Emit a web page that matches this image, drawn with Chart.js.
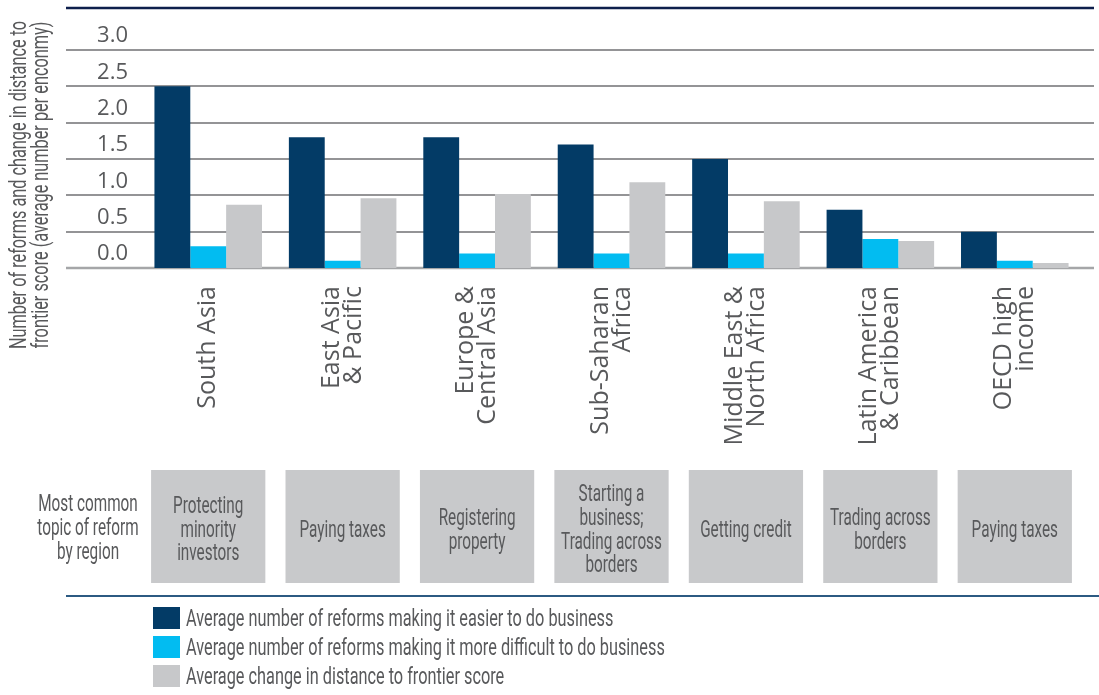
<!DOCTYPE html>
<html>
<head>
<meta charset="utf-8">
<title>Reforms by region</title>
<script src="https://cdn.jsdelivr.net/npm/chart.js@4.4.1/dist/chart.umd.min.js"></script>
<style>
  html, body { margin: 0; padding: 0; background: #ffffff; }
  #wrap { width: 1099px; height: 695px; position: relative; }
</style>
</head>
<body>
<div id="wrap"><canvas id="chart" width="1099" height="695"></canvas></div>
<script>
// Regions (category axis), one multi-line label per region
const regions = [
  ['South Asia'],
  ['East Asia', '& Pacific'],
  ['Europe &', 'Central Asia'],
  ['Sub-Saharan', 'Africa'],
  ['Middle East &', 'North Africa'],
  ['Latin America', '& Caribbean'],
  ['OECD high', 'income']
];

// Series values (average per economy)
const easierReforms    = [2.5, 1.8, 1.8, 1.7, 1.5, 0.8, 0.5];
const difficultReforms = [0.3, 0.1, 0.2, 0.2, 0.2, 0.4, 0.1];
const dtfChange        = [0.87, 0.96, 1.02, 1.18, 0.92, 0.37, 0.07];

const seriesNames = [
  'Average number of reforms making it easier to do business',
  'Average number of reforms making it more difficult to do business',
  'Average change in distance to frontier score'
];

// Value axis ticks
const yTicks = [0, 0.5, 1.0, 1.5, 2.0, 2.5, 3.0];

// Most common topic of reform per region
const topics = [
  ['Protecting', 'minority', 'investors'],
  ['Paying taxes'],
  ['Registering', 'property'],
  ['Starting a', 'business;', 'Trading across', 'borders'],
  ['Getting credit'],
  ['Trading across', 'borders'],
  ['Paying taxes']
];
const topicCaption = ['Most common', 'topic of reform', 'by region'];

const axisTitle = [
  'Number of reforms and change in distance to',
  'frontier score (average number per enconmy)'
];

// Styling
const TEXT = '#58595b';
const NARROW_FONT = 'Roboto, "Liberation Sans", sans-serif';
const SQUEEZE = 0.665;
const REGION_FONT = '25px "Open Sans", sans-serif';
const REGION_LINE = 22;

function squeezedText(ctx, text, x, y, align, size) {
  ctx.save();
  ctx.translate(x, y);
  ctx.scale(SQUEEZE, 1);
  ctx.font = size + 'px ' + NARROW_FONT;
  ctx.fillStyle = TEXT;
  ctx.textAlign = align;
  ctx.textBaseline = 'middle';
  ctx.fillText(text, 0, 0);
  ctx.restore();
}

// Rules, region labels, title, topic boxes and legend around the bar plot
const frame = {
  id: 'frame',
  beforeDatasetsDraw(chart) {
    const ctx = chart.ctx;
    const y = chart.scales.y;
    ctx.save();
    // top rule
    ctx.strokeStyle = '#0d1f4c';
    ctx.lineWidth = 2.5;
    ctx.beginPath(); ctx.moveTo(66, 8); ctx.lineTo(1094, 8); ctx.stroke();
    // horizontal grid, running under the tick labels
    y.ticks.forEach(t => {
      const py = Math.round(y.getPixelForValue(t.value));
      ctx.strokeStyle = t.value === 0 ? '#a5a6a8' : '#707173';
      ctx.lineWidth = t.value === 0 ? 2.5 : 1.6;
      ctx.beginPath(); ctx.moveTo(66, py); ctx.lineTo(1094, py); ctx.stroke();
    });
    ctx.restore();
  },
  afterDraw(chart) {
    const ctx = chart.ctx;
    const x = chart.scales.x;

    // region names, rotated, lines centred on each category
    chart.data.labels.forEach((lines, i) => {
      const cx = x.getPixelForValue(i);
      lines.forEach((ln, k) => {
        const off = (k - (lines.length - 1) / 2) * REGION_LINE;
        ctx.save();
        ctx.translate(cx + off, x.top + 18);
        ctx.rotate(-Math.PI / 2);
        ctx.font = REGION_FONT;
        ctx.fillStyle = TEXT;
        ctx.textAlign = 'right';
        ctx.textBaseline = 'middle';
        ctx.fillText(ln, 0, 0);
        ctx.restore();
      });
    });

    // rotated axis title
    ctx.save();
    ctx.translate(0, 185);
    ctx.rotate(-Math.PI / 2);
    squeezedText(ctx, axisTitle[0], 0, 20, 'center', 24.5);
    squeezedText(ctx, axisTitle[1], 0, 42, 'center', 24.5);
    ctx.restore();

    // topic boxes under each region
    const band = x.width / chart.data.labels.length;
    const boxW = band * 0.85;
    const boxTop = 470, boxH = 113, lineH = 23.7, midY = 531;
    topics.forEach((lines, i) => {
      const cx = x.getPixelForValue(i);
      ctx.fillStyle = '#c8c9cb';
      ctx.fillRect(cx - boxW / 2, boxTop, boxW, boxH);
      const start = midY - (lines.length - 1) * lineH / 2;
      lines.forEach((ln, k) => squeezedText(ctx, ln, cx, start + k * lineH, 'center', 23));
    });
    topicCaption.forEach((ln, k) => squeezedText(ctx, ln, 88, 505 + k * 24, 'center', 23));

    // lower rule
    ctx.save();
    ctx.strokeStyle = '#2c5a82';
    ctx.lineWidth = 2;
    ctx.beginPath(); ctx.moveTo(66, 596); ctx.lineTo(1099, 596); ctx.stroke();
    ctx.restore();

    // legend
    chart.data.datasets.forEach((ds, i) => {
      const cy = 618 + i * 29;
      ctx.fillStyle = ds.backgroundColor;
      ctx.fillRect(153, cy - 11, 27, 22);
      squeezedText(ctx, ds.label, 186, cy + 1.5, 'left', 24.5);
    });
  }
};

new Chart(document.getElementById('chart'), {
  type: 'bar',
  data: {
    labels: regions,
    datasets: [
      { label: seriesNames[0], data: easierReforms,    backgroundColor: '#033b66' },
      { label: seriesNames[1], data: difficultReforms, backgroundColor: '#02bcf1' },
      { label: seriesNames[2], data: dtfChange,        backgroundColor: '#c7c8ca' }
    ]
  },
  options: {
    responsive: false,
    animation: false,
    layout: { padding: { top: 50, right: 17, left: 0, bottom: 0 } },
    datasets: { bar: { categoryPercentage: 0.8, barPercentage: 1.0, borderWidth: 0 } },
    plugins: { legend: { display: false }, tooltip: { enabled: false } },
    scales: {
      x: {
        grid: { display: false, drawTicks: false },
        border: { display: false },
        ticks: { display: false },
        afterFit(s) { s.height = 427; }
      },
      y: {
        min: 0,
        max: 3,
        afterBuildTicks(s) { s.ticks = yTicks.map(v => ({ value: v })); },
        grid: { display: false, drawTicks: false },
        border: { display: false },
        ticks: {
          stepSize: 0.5,
          padding: 13,
          labelOffset: -14,
          color: TEXT,
          font: { family: '"Open Sans", sans-serif', size: 22 },
          callback: v => Number(v).toFixed(1)
        },
        afterFit(s) { s.width = 141; }
      }
    }
  },
  plugins: [frame]
});
</script>
</body>
</html>
